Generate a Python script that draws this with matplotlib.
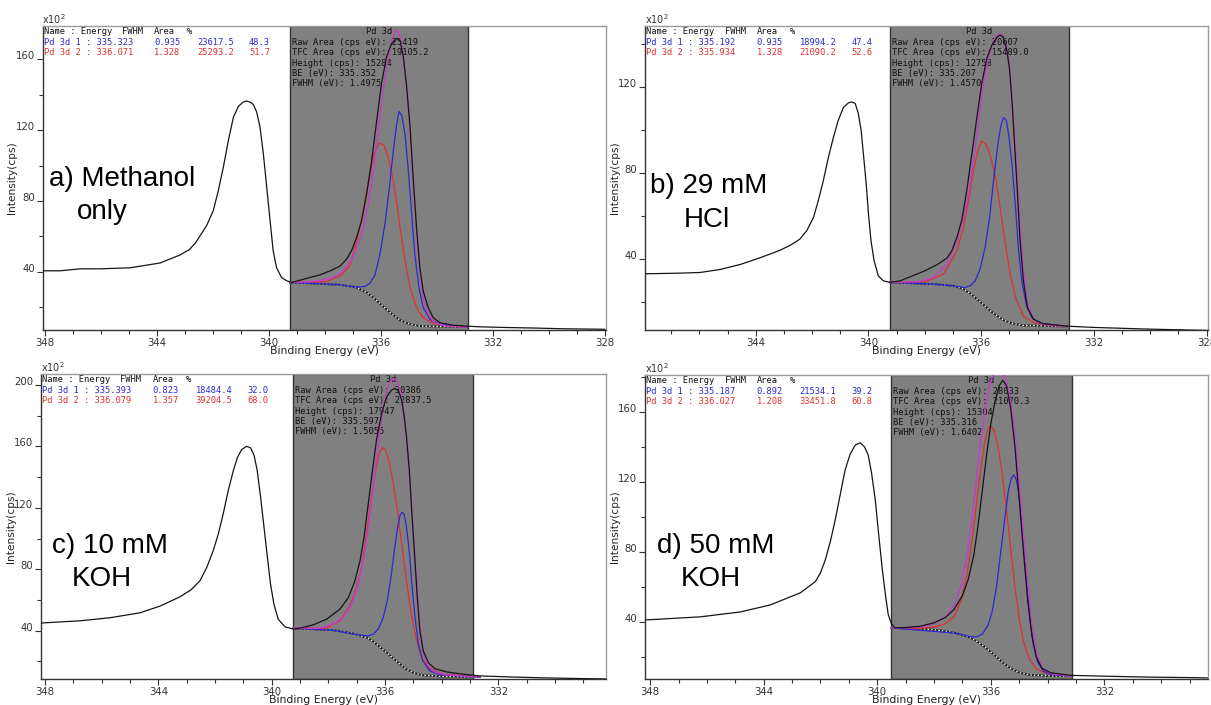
import matplotlib
matplotlib.use('Agg')
import matplotlib.pyplot as plt
from matplotlib.ticker import MultipleLocator

# ---- panel a) Methanol only -------------------------------------------------
a_raw_e = [348.1, 347.46, 346.75, 346.04, 344.96, 343.89, 343.18, 342.85, 342.64,
           342.46, 342.23, 341.99, 341.81, 341.63, 341.45, 341.27, 341.09, 340.92, 340.8,
           340.68, 340.56, 340.44, 340.32, 340.2, 340.08, 339.96, 339.85, 339.73, 339.55,
           339.37, 339.19, 338.89, 338.54, 338.18, 337.82, 337.46, 337.23, 337.05, 336.87,
           336.69, 336.51, 336.33, 336.15, 335.98, 335.8, 335.62, 335.44, 335.32, 335.2,
           335.08, 334.96, 334.85, 334.73, 334.61, 334.49, 334.31, 334.13, 333.89, 333.42,
           332.94, 332.5, 331.5, 330.5, 329.5, 328.0]
a_raw_i = [40.6, 40.6, 41.7, 41.7, 42.3, 45.0, 49.5, 52.5, 56.0,
           60.4, 66.0, 74.5, 85.8, 99.0, 114.1, 127.3, 133.4, 135.8, 136.4,
           135.8, 134.5, 130.2, 121.7, 106.6, 87.7, 68.9, 51.9, 42.4, 36.8,
           35.0, 34.0, 35.3, 36.8, 38.3, 40.5, 43.3, 47.1, 51.9, 59.4,
           68.9, 84.0, 102.9, 125.5, 146.2, 161.3, 168.8, 171.7, 170.7, 161.3,
           144.3, 121.7, 93.4, 65.1, 42.4, 29.2, 19.8, 14.1, 11.3, 9.9,
           9.4, 9.0, 8.6, 8.3, 7.9, 7.6]
a_bg_e = [339.25, 338.3, 337.46, 336.87, 336.51, 336.27, 336.04, 335.8, 335.56, 335.32,
          335.02, 334.61, 332.94]
a_bg_i = [34.0, 33.4, 32.7, 31.2, 28.3, 25.5, 22.1, 18.9, 15.7, 12.8,
          10.8, 9.4, 8.9]
a_p1_e = [339.25, 338.3, 337.46, 336.87, 336.57, 336.39, 336.21, 336.04, 335.86, 335.7,
          335.56, 335.44, 335.35, 335.25, 335.14, 335.02, 334.9, 334.79, 334.64, 334.49,
          334.25, 333.89, 332.94]
a_p1_i = [34.0, 33.4, 32.7, 31.4, 31.8, 33.6, 38.3, 49.6, 66.6, 87.4,
          108.1, 123.2, 130.4, 128.0, 117.6, 96.9, 72.4, 49.8, 31.0, 19.8,
          13.2, 10.4, 8.9]
a_p2_e = [339.25, 337.94, 337.46, 337.11, 336.99, 336.75, 336.57, 336.39, 336.25, 336.07,
          335.89, 335.74, 335.58, 335.44, 335.3, 335.14, 334.96, 334.73, 334.49, 334.13,
          333.54, 332.94]
a_p2_i = [34.0, 34.5, 37.7, 43.3, 50.0, 65.1, 80.2, 95.3, 106.6, 112.6,
          111.3, 104.7, 93.4, 79.2, 63.2, 46.2, 31.2, 19.8, 14.1, 10.9,
          9.4, 8.9]
a_env_e = [339.25, 338.54, 338.06, 337.7, 337.35, 337.05, 336.81, 336.63, 336.45, 336.27,
           336.1, 335.92, 335.74, 335.58, 335.46, 335.35, 335.23, 335.11, 334.99, 334.87,
           334.75, 334.63, 334.49, 334.31, 334.07, 333.66, 332.94]
a_env_i = [34.0, 34.4, 35.3, 36.8, 40.5, 47.1, 55.6, 65.0, 78.2, 97.1,
           119.8, 142.4, 161.3, 172.6, 176.4, 174.5, 165.1, 148.1, 125.5, 97.1,
           68.8, 44.3, 25.5, 16.0, 11.3, 9.4, 8.9]
a_region = (339.25, 332.88)
a_rows = [["Pd 3d 1 : 335.323", "0.935", "23617.5", "48.3"],
          ["Pd 3d 2 : 336.071", "1.328", "25293.2", "51.7"]]
a_info = ["Raw Area (cps eV): 25419", "TFC Area (cps eV): 19105.2",
          "Height (cps): 15284", "BE (eV): 335.352", "FWHM (eV): 1.4975"]

# ---- panel b) 29 mM HCl -----------------------------------------------------
b_raw_e = [347.93, 346.69, 345.98, 345.27, 344.56, 343.84, 343.13, 342.75,
           342.43, 342.19, 341.95, 341.78, 341.6, 341.42, 341.24, 341.07, 340.89, 340.71,
           340.59, 340.47, 340.36, 340.26, 340.18, 340.08, 340.0, 339.91, 339.8, 339.65,
           339.47, 339.23, 338.88, 338.52, 338.05, 337.57, 337.22, 337.04, 336.86, 336.69,
           336.51, 336.33, 336.15, 335.98, 335.8, 335.62, 335.44, 335.33, 335.21, 335.09,
           334.99, 334.9, 334.81, 334.71, 334.62, 334.5, 334.36, 334.14, 333.79, 333.31,
           332.96, 332.0, 331.0, 330.0, 329.0, 327.95]
b_raw_i = [33.0, 33.3, 33.6, 35.0, 37.3, 40.5, 44.0, 46.5,
           49.2, 53.1, 59.3, 67.1, 76.5, 87.4, 96.8, 104.6, 110.5, 112.7,
           113.1, 112.4, 107.7, 99.9, 89.0, 74.9, 60.9, 48.4, 39.1, 32.0,
           29.7, 29.0, 29.7, 31.6, 34.1, 37.2, 40.3, 43.7, 50.0, 57.8,
           71.8, 89.0, 106.1, 121.7, 133.4, 139.6, 143.2, 144.3, 143.2, 137.3,
           128.0, 112.4, 92.1, 70.3, 48.4, 29.7, 17.2, 11.8, 9.7, 9.1,
           8.6, 8.0, 7.6, 7.2, 6.9, 6.6]
b_bg_e = [339.23, 337.69, 336.98, 336.63, 336.39, 336.15, 335.92, 335.68, 335.44, 335.21,
          334.91, 334.5, 332.96]
b_bg_i = [29.0, 28.2, 27.4, 25.9, 23.9, 21.2, 18.6, 15.8, 13.5, 11.4,
          9.9, 8.9, 8.5]
b_p1_e = [339.23, 337.69, 336.98, 336.57, 336.39, 336.21, 336.04, 335.86, 335.7, 335.56,
          335.42, 335.3, 335.21, 335.11, 335.02, 334.91, 334.79, 334.68, 334.56, 334.4,
          334.2, 333.91, 332.96]
b_p1_i = [29.0, 28.2, 27.4, 26.6, 27.4, 29.7, 35.2, 45.3, 59.3, 76.5,
          92.1, 102.2, 105.8, 104.6, 97.5, 84.3, 65.6, 45.3, 29.7, 18.8,
          12.5, 9.9, 8.5]
b_p2_e = [339.23, 338.6, 337.93, 337.34, 336.86, 336.63, 336.45, 336.27, 336.12, 335.98,
          335.82, 335.66, 335.49, 335.33, 335.15, 334.97, 334.76, 334.5, 334.14, 333.67,
          332.96]
b_p2_i = [29.0, 29.2, 29.6, 32.8, 43.7, 54.6, 67.1, 81.2, 90.5, 94.9,
          93.3, 87.4, 78.0, 64.0, 47.6, 32.8, 21.1, 13.3, 10.2, 9.1,
          8.5]
b_env_e = [339.23, 338.17, 337.69, 337.22, 336.86, 336.63, 336.45, 336.27, 336.09, 335.92,
           335.74, 335.56, 335.42, 335.33, 335.21, 335.09, 334.97, 334.85, 334.73, 334.62,
           334.5, 334.36, 334.14, 333.79, 332.96]
b_env_i = [28.9, 29.4, 31.3, 37.5, 48.4, 59.3, 70.3, 85.8, 104.6, 121.7,
           134.2, 141.7, 144.3, 145.1, 143.5, 138.1, 126.4, 104.6, 79.6, 54.6,
           34.4, 19.6, 11.8, 9.4, 8.5]
b_region = (339.23, 332.9)
b_rows = [["Pd 3d 1 : 335.192", "0.935", "18994.2", "47.4"],
          ["Pd 3d 2 : 335.934", "1.328", "21090.2", "52.6"]]
b_info = ["Raw Area (cps eV): 20607", "TFC Area (cps eV): 15489.0",
          "Height (cps): 12758", "BE (eV): 335.207", "FWHM (eV): 1.4570"]

# ---- panel c) 10 mM KOH -----------------------------------------------------
c_raw_e = [348.11, 346.77, 345.71, 344.65, 343.94, 343.24, 342.85,
           342.53, 342.29, 342.06, 341.88, 341.71, 341.53, 341.35, 341.21, 341.06, 340.88,
           340.74, 340.62, 340.51, 340.39, 340.27, 340.15, 340.04, 339.92, 339.77, 339.53,
           339.24, 339.0, 338.53, 338.06, 337.59, 337.29, 337.06, 336.88, 336.74, 336.59,
           336.44, 336.3, 336.12, 335.94, 335.77, 335.65, 335.53, 335.41, 335.32, 335.24,
           335.14, 335.05, 334.95, 334.86, 334.77, 334.65, 334.47, 334.24, 333.82, 333.24,
           332.65, 331.5, 330.5, 329.5, 328.1]
c_raw_i = [45.0, 46.4, 48.4, 51.6, 56.0, 62.0, 66.5,
           72.5, 81.2, 92.2, 103.1, 116.1, 131.4, 144.4, 152.7, 158.0, 160.1,
           159.0, 154.2, 144.4, 127.0, 107.4, 87.8, 70.4, 57.3, 47.5, 42.5,
           41.0, 41.6, 43.8, 47.5, 54.0, 61.6, 72.5, 85.6, 100.8, 122.7,
           144.4, 164.1, 181.5, 192.4, 196.7, 197.8, 196.3, 190.2, 179.3, 166.2,
           144.4, 116.1, 87.8, 61.6, 39.9, 26.8, 19.2, 15.2, 13.1, 11.6,
           10.5, 9.8, 9.3, 8.9, 8.5]
c_bg_e = [339.24, 337.82, 337.12, 336.65, 336.41, 336.18, 335.94, 335.71, 335.47, 335.24,
          335.0, 334.71, 334.06, 332.65]
c_bg_i = [41.6, 40.3, 38.1, 35.5, 32.9, 29.4, 25.7, 22.0, 18.1, 14.8,
          12.6, 11.1, 10.2, 9.8]
c_p1_e = [339.24, 337.82, 337.12, 336.59, 336.41, 336.24, 336.06, 335.92, 335.79, 335.67,
          335.56, 335.47, 335.4, 335.33, 335.24, 335.14, 335.05, 334.94, 334.82, 334.67,
          334.41, 334.06, 332.65]
c_p1_i = [41.6, 40.3, 37.7, 36.6, 37.7, 41.0, 48.6, 59.5, 74.7, 92.2,
          106.3, 115.0, 117.2, 116.1, 107.4, 91.1, 70.4, 48.6, 31.2, 20.3,
          13.7, 11.3, 9.8]
c_p2_e = [339.24, 338.06, 337.59, 337.24, 337.0, 336.82, 336.65, 336.51, 336.35, 336.21,
          336.09, 335.98, 335.85, 335.71, 335.56, 335.41, 335.26, 335.09, 334.91, 334.71,
          334.41, 333.94, 332.65]
c_p2_i = [41.6, 41.6, 46.4, 56.2, 68.2, 81.2, 103.1, 122.7, 142.3, 155.4,
          159.3, 157.5, 149.9, 135.8, 118.3, 96.5, 74.7, 53.0, 35.5, 22.4,
          14.8, 11.6, 9.8]
c_env_e = [339.24, 338.29, 337.82, 337.47, 337.18, 336.94, 336.76, 336.62, 336.47, 336.32,
           336.18, 336.04, 335.88, 335.73, 335.59, 335.47, 335.35, 335.24, 335.12, 335.0,
           334.88, 334.77, 334.65, 334.47, 334.24, 333.82, 332.65]
c_env_i = [41.6, 41.6, 44.3, 48.6, 57.3, 70.4, 85.6, 103.1, 124.8, 148.8,
           170.6, 188.0, 200.0, 204.4, 203.3, 196.7, 183.7, 164.1, 135.8, 103.1,
           70.4, 44.3, 26.8, 17.0, 13.1, 11.1, 9.8]
c_region = (339.24, 332.91)
c_rows = [["Pd 3d 1 : 335.393", "0.823", "18484.4", "32.0"],
          ["Pd 3d 2 : 336.079", "1.357", "39204.5", "68.0"]]
c_info = ["Raw Area (cps eV): 30386", "TFC Area (cps eV): 22837.5",
          "Height (cps): 17947", "BE (eV): 335.597", "FWHM (eV): 1.5055"]

# ---- panel d) 50 mM KOH -----------------------------------------------------
d_raw_e = [348.18, 346.23, 344.82, 343.77, 342.71, 342.18, 342.0, 341.83, 341.65, 341.48,
           341.3, 341.13, 340.95, 340.77, 340.6, 340.45, 340.32, 340.2, 340.07, 339.95,
           339.82, 339.7, 339.61, 339.5, 339.37, 339.0, 338.5, 338.0, 337.6, 337.3,
           337.0, 336.8, 336.6, 336.45, 336.3, 336.15, 336.0, 335.85, 335.7, 335.58,
           335.45, 335.3, 335.15, 335.0, 334.85, 334.7, 334.55, 334.4, 334.2, 333.9,
           333.2, 332.0, 330.5, 329.0, 328.35]
d_raw_i = [41.1, 42.9, 45.7, 49.7, 56.6, 63.0, 68.0, 75.4, 86.0, 98.3,
           113.0, 126.9, 136.0, 141.1, 142.3, 140.0, 135.4, 125.0, 109.7, 90.0,
           69.7, 54.0, 44.0, 39.0, 36.6, 36.8, 37.5, 39.5, 42.5, 47.0,
           55.0, 64.0, 78.0, 95.0, 115.0, 135.0, 153.0, 166.0, 175.0, 178.0,
           175.0, 162.0, 140.0, 110.0, 80.0, 52.0, 32.0, 20.0, 13.5, 11.0,
           9.5, 9.0, 8.5, 8.2, 8.0]
d_bg_e = [339.5, 338.5, 337.8, 337.2, 336.8, 336.5, 336.2, 335.9, 335.6, 335.3,
          335.0, 334.6, 334.0, 333.2]
d_bg_i = [36.6, 36.2, 35.2, 33.5, 31.5, 29.0, 25.5, 21.5, 17.0, 13.5,
          11.0, 9.7, 9.2, 9.0]
d_p1_e = [339.5, 337.2, 336.7, 336.5, 336.3, 336.1, 335.95, 335.8, 335.65, 335.5,
          335.38, 335.28, 335.19, 335.1, 335.0, 334.9, 334.8, 334.7, 334.6, 334.5,
          334.35, 334.15, 333.9, 333.2]
d_p1_i = [36.6, 33.5, 31.5, 31.5, 33.0, 38.0, 46.0, 60.0, 80.0, 100.0,
          115.0, 122.0, 124.0, 121.0, 112.0, 96.0, 77.0, 57.0, 39.0, 27.0,
          17.0, 12.0, 10.0, 9.0]
d_p2_e = [339.5, 338.5, 338.0, 337.6, 337.3, 337.05, 336.85, 336.65, 336.5, 336.35,
          336.2, 336.1, 336.03, 335.9, 335.75, 335.6, 335.45, 335.3, 335.15, 335.0,
          334.85, 334.65, 334.4, 334.0, 333.2]
d_p2_i = [36.6, 36.3, 37.0, 39.0, 43.0, 52.0, 66.0, 88.0, 108.0, 128.0,
          144.0, 150.0, 152.0, 150.0, 141.0, 125.0, 104.0, 82.0, 60.0, 42.0,
          29.0, 19.0, 13.0, 10.5, 9.0]
d_env_e = [339.5, 338.5, 338.0, 337.6, 337.3, 337.05, 336.85, 336.65, 336.5, 336.35,
           336.2, 336.05, 335.9, 335.75, 335.6, 335.45, 335.3, 335.15, 335.0, 334.85,
           334.7, 334.55, 334.4, 334.2, 333.9, 333.2]
d_env_i = [36.6, 37.0, 39.0, 43.0, 49.0, 60.0, 76.0, 100.0, 122.0, 144.0,
           162.0, 175.0, 182.0, 184.0, 183.0, 178.0, 166.0, 146.0, 120.0, 90.0,
           62.0, 38.0, 23.0, 14.0, 10.5, 9.0]
d_region = (339.5, 333.15)
d_rows = [["Pd 3d 1 : 335.187", "0.892", "21534.1", "39.2"],
          ["Pd 3d 2 : 336.027", "1.208", "33451.8", "60.8"]]
d_info = ["Raw Area (cps eV): 28033", "TFC Area (cps eV): 21070.3",
          "Height (cps): 15304", "BE (eV): 335.316", "FWHM (eV): 1.6402"]

labels = [("a) Methanol", "only"), ("b) 29 mM", "HCl"),
          ("c) 10 mM", "KOH"), ("d) 50 mM", "KOH")]

# ---- layout (pixels) --------------------------------------------------------
W, H = 1211, 705
boxes = [(42.5, 26, 606, 330), (645, 26, 1208, 330),
         (41, 374, 606, 679), (645, 375, 1208, 679)]
xlims = [(348.09, 327.96), (347.93, 327.95), (348.14, 328.2), (348.18, 328.35)]
ylims = [(7.2, 178.7), (6.8, 148.5), (8.5, 207.2), (7.4, 181.0)]
label_pos = [((122, 179), (102, 212)), ((709, 186), (707, 220)),
             ((110, 546), (102, 579)), ((716, 546), (711, 579))]

panels = [
    (a_raw_e, a_raw_i, a_bg_e, a_bg_i, a_p1_e, a_p1_i, a_p2_e, a_p2_i, a_env_e, a_env_i, a_region, a_rows, a_info),
    (b_raw_e, b_raw_i, b_bg_e, b_bg_i, b_p1_e, b_p1_i, b_p2_e, b_p2_i, b_env_e, b_env_i, b_region, b_rows, b_info),
    (c_raw_e, c_raw_i, c_bg_e, c_bg_i, c_p1_e, c_p1_i, c_p2_e, c_p2_i, c_env_e, c_env_i, c_region, c_rows, c_info),
    (d_raw_e, d_raw_i, d_bg_e, d_bg_i, d_p1_e, d_p1_i, d_p2_e, d_p2_i, d_env_e, d_env_i, d_region, d_rows, d_info),
]

BLUE = '#2a2ad2'
RED = '#e03030'
MAG = '#c83cc8'
TXT = dict(fontsize=6.3, family='DejaVu Sans Mono')

fig = plt.figure(figsize=(W / 100, H / 100), dpi=100)


def put(ax, dx, dy, s, xy=(0, 1), xycoords='axes fraction', **kw):
    # dx, dy in pixels from the anchor point (dpi 100 -> 0.72 pt per px)
    ax.annotate(s, xy=xy, xycoords=xycoords, xytext=(dx * 0.72, -dy * 0.72),
                textcoords='offset points', va='center', zorder=1.5, **kw)


for k, p in enumerate(panels):
    raw_e, raw_i, bg_e, bg_i, p1_e, p1_i, p2_e, p2_i, env_e, env_i, region, rows, info = p
    l, t, r, b = boxes[k]
    ax = fig.add_axes([l / W, 1 - b / H, (r - l) / W, (b - t) / H])
    ax.set_xlim(*xlims[k])
    ax.set_ylim(*ylims[k])

    # fit region
    ax.axvspan(region[0], region[1], facecolor='#808080', edgecolor='#333333',
               lw=1.0, zorder=0.5)

    ax.plot(raw_e, raw_i, color='#151515', lw=0.9, zorder=3)
    ax.plot(bg_e, bg_i, color='#202020', lw=1.4, zorder=2.5)
    ax.plot(bg_e, bg_i, color='white', lw=1.0, ls=(0, (1, 1.6)), zorder=2.6)
    ax.plot(p2_e, p2_i, color=RED, lw=0.9, zorder=2.7)
    ax.plot(p1_e, p1_i, color=BLUE, lw=0.9, zorder=2.8)
    ax.plot(env_e, env_i, color=MAG, lw=1.0, zorder=2.9)

    # axes styling
    for side in ['left', 'bottom']:
        ax.spines[side].set_color('#333333')
    for side in ['top', 'right']:
        ax.spines[side].set_color('#9a9a9a')
    for sp in ax.spines.values():
        sp.set_linewidth(1.0)
    ax.xaxis.set_major_locator(MultipleLocator(4))
    ax.xaxis.set_minor_locator(MultipleLocator(1))
    ax.yaxis.set_major_locator(MultipleLocator(40))
    ax.yaxis.set_minor_locator(MultipleLocator(20))
    ax.tick_params(which='both', direction='out', colors='#333333', labelsize=7.3,
                   width=0.8, labelcolor='#333333')
    ax.tick_params(which='major', length=4, pad=1.5)
    ax.tick_params(which='minor', length=3)
    ax.set_yticks([v for v in ax.get_yticks() if ylims[k][0] < v < ylims[k][1]])
    ax.set_yticklabels(['%d' % v for v in ax.get_yticks()])
    for lab in ax.get_yticklabels():
        lab.set_va('baseline')

    aw, ah = r - l, b - t
    ax.set_xlabel('Binding Energy (eV)', fontsize=7.8, color='#222222')
    ax.xaxis.set_label_coords(0.5, -16 / ah)
    ax.set_ylabel('Intensity(cps)', fontsize=7.6, color='#222222')
    ax.yaxis.set_label_coords(-25 / aw, 0.5)

    # x10^2 multiplier
    ax.annotate(r'x10$^2$', xy=(0, 1), xycoords='axes fraction', xytext=(0, 0),
                textcoords='offset points', va='bottom', ha='left',
                fontsize=7.0, color='#333333')

    # component table
    put(ax, 1, 5.7, 'Name : Energy', color='#111111', **TXT)
    put(ax, 79.5, 5.7, 'FWHM', color='#111111', **TXT)
    put(ax, 111.5, 5.7, 'Area', color='#111111', **TXT)
    put(ax, 144.5, 5.7, '%', color='#111111', **TXT)
    for j, row in enumerate(rows):
        col = BLUE if j == 0 else RED
        dy = 16.3 + 10.2 * j
        for dx, s in zip([1, 111.5, 154.5, 206.5], row):
            put(ax, dx, dy, s, color=col, **TXT)

    # region info
    mid = (region[0] + region[1]) / 2
    put(ax, 0, 5.7, 'Pd 3d', xy=(mid, 1), xycoords=('data', 'axes fraction'),
        ha='center', color='#111111', **TXT)
    for j, s in enumerate(info):
        put(ax, 2, 16.3 + 10.4 * j, s, xy=(region[0], 1),
            xycoords=('data', 'axes fraction'), color='#111111', **TXT)

    # sample label
    for s, (px, py) in zip(labels[k], label_pos[k]):
        fig.text(px / W, 1 - py / H, s, ha='center', va='center', fontsize=20,
                 family='Liberation Sans', color='black')

fig.savefig('out.png', dpi=100)
